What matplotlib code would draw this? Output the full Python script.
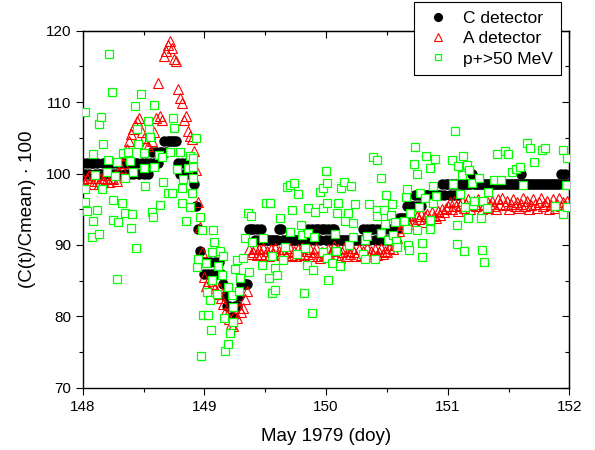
import numpy as np
import matplotlib
matplotlib.use("Agg")
import matplotlib.pyplot as plt
from matplotlib.ticker import MultipleLocator

plt.rcParams['font.family'] = ['Liberation Sans', 'DejaVu Sans']

# C and A detectors: one sample every 1/60 day, days 148-152
step = 1 / 60
sample_time = 148 + step * np.arange(240)

c_detector = [
    # 148.0 - 148.5
    101.5, 100.0, 101.5, 100.0, 101.5, 101.5, 100.0, 101.5, 100.0, 100.0,
    101.5, 100.0, 101.5, 101.5, 100.0, 101.5, 100.0, 101.5, 100.0, 101.5,
    101.5, 100.0, 101.5, 100.0, 101.5, 100.0, 101.5, 101.5, 100.0, 101.5,
    # 148.5 - 149.0
    100.0, 101.5, 100.0, 101.5, 103.0, 101.5, 103.0, 101.5, 103.0, 103.0,
    104.5, 103.0, 104.5, 104.5, 104.5, 104.5, 104.5, 101.5, 100.0, 101.5,
    100.0, 101.5, 100.0, 101.5, 100.0, 98.5, 95.4, 92.3, 89.2, 87.6,
    # 149.0 - 149.5
    86.0, 87.6, 86.0, 87.6, 86.0, 87.6, 86.0, 87.6, 86.0, 84.5,
    82.9, 81.4, 81.4, 79.9, 79.9, 81.4, 81.4, 82.9, 84.5, 84.5,
    84.5, 84.5, 92.3, 92.3, 92.3, 90.7, 92.3, 90.7, 92.3, 90.7,
    # 149.5 - 150.0
    90.7, 90.7, 90.7, 90.7, 90.7, 90.7, 90.7, 92.3, 92.3, 90.7,
    90.7, 90.7, 90.7, 90.7, 90.7, 90.7, 90.7, 90.7, 90.7, 90.7,
    90.7, 92.3, 90.7, 92.3, 90.7, 92.3, 92.3, 90.7, 92.3, 92.3,
    # 150.0 - 150.5
    90.7, 92.3, 90.7, 92.3, 92.3, 90.7, 90.7, 90.7, 90.7, 90.7,
    90.7, 90.7, 90.7, 90.7, 90.7, 90.7, 90.7, 90.7, 92.3, 90.7,
    92.3, 90.7, 92.3, 92.3, 90.7, 92.3, 90.7, 92.3, 90.7, 92.3,
    # 150.5 - 151.0
    90.7, 92.3, 90.7, 92.3, 90.7, 92.3, 93.8, 93.8, 93.8, 93.8,
    95.4, 95.4, 95.4, 95.4, 97.0, 95.4, 97.0, 95.4, 97.0, 97.0,
    97.0, 97.0, 97.0, 97.0, 97.0, 97.0, 97.0, 98.5, 97.0, 98.5,
    # 151.0 - 151.5
    98.5, 97.0, 98.5, 97.0, 98.5, 97.0, 98.5, 98.5, 98.5, 98.5,
    98.5, 98.5, 100.0, 98.5, 98.5, 98.5, 98.5, 98.5, 98.5, 98.5,
    98.5, 98.5, 98.5, 98.5, 98.5, 98.5, 98.5, 98.5, 98.5, 98.5,
    # 151.5 - 152.0
    98.5, 98.5, 98.5, 98.5, 98.5, 98.5, 100.0, 98.5, 98.5, 98.5,
    98.5, 98.5, 98.5, 98.5, 98.5, 98.5, 98.5, 98.5, 98.5, 98.5,
    98.5, 98.5, 98.5, 98.5, 98.5, 98.5, 100.0, 98.5, 100.0, 98.5,
]

a_detector = [
    # 148.0 - 148.5
    99.2, 98.6, 99.4, 99.8, 99.0, 98.6, 99.4, 99.0, 98.6, 99.4,
    99.0, 99.8, 99.2, 98.8, 99.4, 99.2, 99.8, 99.0, 100.2, 100.8,
    101.5, 102.6, 103.5, 104.6, 105.5, 106.2, 106.8, 107.4, 107.8, 105.8,
    # 148.5 - 149.0
    105.0, 104.2, 103.8, 105.5, 104.6, 105.8, 107.8, 112.6, 108.0, 107.5,
    116.5, 117.2, 118.0, 118.5, 117.6, 116.0, 115.8, 111.8, 110.6, 109.8,
    107.5, 108.0, 106.0, 105.2, 104.8, 103.2, 100.5, 96.0, 92.5, 89.0,
    # 149.0 - 149.5
    85.5, 84.2, 85.0, 83.5, 84.6, 84.0, 83.2, 84.0, 82.6, 81.8,
    80.6, 80.2, 79.6, 79.0, 78.6, 80.5, 79.8, 81.2, 80.6, 81.2,
    82.4, 83.5, 89.5, 88.8, 89.0, 89.6, 88.6, 89.4, 88.8, 89.6,
    # 149.5 - 150.0
    88.6, 89.2, 88.4, 89.4, 88.8, 89.6, 88.6, 89.2, 88.8, 89.4,
    88.4, 89.0, 89.6, 88.6, 89.2, 88.4, 89.4, 88.8, 89.6, 88.6,
    89.2, 88.8, 89.4, 88.4, 89.0, 89.6, 88.4, 88.2, 89.0, 88.6,
    # 150.0 - 150.5
    88.8, 89.4, 88.4, 89.2, 89.8, 88.6, 89.4, 88.2, 89.0, 89.6,
    88.4, 89.2, 88.8, 89.6, 89.0, 88.4, 89.4, 88.6, 89.2, 88.8,
    89.6, 88.4, 89.2, 88.8, 89.4, 88.6, 89.0, 89.6, 88.8, 89.2,
    # 150.5 - 151.0
    89.0, 89.6, 90.0, 89.4, 90.2, 91.0, 92.0, 92.4, 92.8, 93.2,
    93.5, 93.0, 94.2, 93.4, 93.0, 94.0, 93.6, 94.4, 93.2, 94.0,
    94.4, 93.8, 94.6, 94.0, 93.8, 94.8, 94.2, 95.0, 94.6, 95.2,
    # 151.0 - 151.5
    95.4, 96.0, 95.0, 96.2, 95.4, 94.8, 95.6, 96.2, 95.2, 95.8,
    96.4, 95.0, 95.6, 96.2, 95.4, 96.4, 95.8, 95.0, 95.6, 96.4,
    95.2, 95.8, 96.2, 95.4, 95.0, 96.4, 95.8, 96.6, 95.6, 96.2,
    # 151.5 - 152.0
    95.0, 95.8, 96.4, 95.4, 96.0, 95.2, 95.8, 96.6, 95.4, 96.2,
    95.0, 95.6, 96.4, 95.8, 95.2, 96.0, 96.6, 95.4, 95.8, 96.2,
    95.0, 95.6, 96.4, 95.2, 95.8, 96.6, 95.4, 96.0, 95.6, 96.2,
]

# protons > 50 MeV (time in doy, normalised rate)
proton_time = [
    148.02, 148.02, 148.02, 148.035, 148.075, 148.085, 148.085, 148.10, 148.12, 148.13,
    148.13, 148.15, 148.16, 148.17, 148.20, 148.21, 148.22, 148.24, 148.25, 148.25,
    148.265, 148.28, 148.28, 148.29, 148.32, 148.33, 148.35, 148.35, 148.37, 148.39,
    148.40, 148.405, 148.41, 148.43, 148.44, 148.45, 148.455, 148.48, 148.50, 148.505,
    148.51, 148.54, 148.545, 148.55, 148.57, 148.58, 148.59, 148.59, 148.63, 148.635,
    148.65, 148.66, 148.70, 148.72, 148.73, 148.74, 148.75, 148.775, 148.80, 148.815,
    148.815, 148.825, 148.85, 148.865, 148.88, 148.88, 148.90, 148.905, 148.905, 148.905,
    148.93, 148.94, 148.95, 148.965, 148.97, 148.98, 148.99,
    149.015, 149.02, 149.03, 149.045, 149.055, 149.065, 149.065, 149.07, 149.08, 149.10,
    149.11, 149.13, 149.145, 149.155, 149.16, 149.17, 149.19, 149.195, 149.21, 149.225,
    149.235, 149.235, 149.25, 149.27, 149.285, 149.29, 149.32, 149.335, 149.36, 149.37,
    149.38, 149.39, 149.475, 149.48, 149.51, 149.53, 149.54, 149.555, 149.555, 149.58,
    149.58, 149.60, 149.62, 149.645, 149.665, 149.68, 149.705, 149.705, 149.72, 149.74,
    149.76, 149.77, 149.79, 149.80, 149.82, 149.83, 149.845, 149.85, 149.85, 149.885,
    149.89, 149.90, 149.91, 149.95, 149.975, 149.975, 149.975,
    150.00, 150.01, 150.01, 150.01, 150.02, 150.05, 150.075, 150.08, 150.09, 150.10,
    150.12, 150.115, 150.15, 150.155, 150.18, 150.19, 150.205, 150.22, 150.22, 150.24,
    150.305, 150.32, 150.32, 150.34, 150.355, 150.385, 150.40, 150.42, 150.42, 150.42,
    150.45, 150.45, 150.475, 150.485, 150.49, 150.51, 150.535, 150.54, 150.55, 150.565,
    150.575, 150.585, 150.64, 150.66, 150.665, 150.665, 150.675, 150.68, 150.69, 150.725,
    150.73, 150.75, 150.75, 150.765, 150.77, 150.79, 150.79, 150.815, 150.82, 150.855,
    150.855, 150.855, 150.88, 150.88, 150.895, 150.905,
    151.035, 151.045, 151.06, 151.08, 151.08, 151.085, 151.10, 151.12, 151.125, 151.135,
    151.14, 151.16, 151.165, 151.175, 151.20, 151.21, 151.215, 151.26, 151.27, 151.28,
    151.29, 151.30, 151.325, 151.33, 151.38, 151.405, 151.44, 151.47, 151.495, 151.53,
    151.56, 151.595, 151.62, 151.655, 151.68, 151.71, 151.775, 151.80, 151.885, 151.95,
    151.95, 151.975, 151.98, 151.98,
]
proton_rate = [
    108.6, 97.8, 96.0, 94.8, 91.1, 102.7, 93.4, 99.8, 94.9, 106.9,
    91.5, 107.9, 97.8, 104.1, 100.2, 101.9, 116.7, 111.4, 96.3, 93.5,
    99.7, 101.6, 85.2, 93.2, 95.9, 102.9, 99.4, 94.5, 103.0, 101.7,
    92.4, 94.3, 100.2, 109.4, 89.6, 106.2, 104.1, 111.1, 102.9, 100.8,
    98.3, 107.3, 106.2, 105.1, 94.6, 93.9, 109.6, 100.9, 102.6, 95.6,
    102.3, 98.8, 97.3, 103.0, 97.3, 107.8, 106.4, 100.6, 103.0, 98.0,
    95.9, 99.2, 93.4, 100.8, 102.4, 95.3, 97.3, 99.4, 102.2, 100.9,
    105.0, 86.9, 88.0, 93.9, 74.5, 92.1, 80.2,
    87.5, 83.4, 80.2, 82.3, 78.1, 89.0, 85.1, 92.1, 90.4, 83.1,
    87.1, 89.2, 85.8, 88.5, 79.8, 75.2, 76.2, 84.1, 77.7, 83.0,
    81.3, 79.2, 86.6, 87.9, 83.6, 85.4, 88.2, 91.0, 94.5, 86.2,
    94.1, 90.4, 87.2, 91.0, 95.9, 85.4, 95.9, 88.5, 83.3, 86.8,
    83.7, 85.8, 93.8, 87.9, 89.7, 98.1, 98.4, 91.8, 94.9, 98.7,
    88.7, 97.1, 92.8, 91.4, 83.3, 89.6, 87.2, 95.2, 91.7, 80.5,
    86.5, 91.1, 94.6, 97.4, 98.0, 95.2, 89.0,
    100.3, 95.9, 98.7, 88.2, 85.1, 87.5, 91.5, 89.2, 94.5, 95.9,
    98.0, 87.1, 98.8, 93.4, 94.5, 90.0, 98.3, 93.1, 91.1, 95.7,
    88.7, 90.7, 88.0, 91.3, 95.7, 102.3, 88.1, 101.9, 94.9, 94.1,
    99.4, 91.7, 94.9, 92.9, 97.0, 90.7, 94.2, 95.7, 91.4, 93.2,
    90.6, 89.7, 93.4, 96.7, 97.8, 92.2, 90.0, 89.3, 94.5, 101.3,
    103.7, 99.9, 92.1, 95.3, 97.3, 90.3, 88.3, 96.6, 102.4, 100.8,
    93.5, 92.2, 98.3, 95.9, 102.0, 96.9,
    101.9, 98.5, 105.9, 92.8, 90.1, 101.0, 97.1, 99.8, 102.4, 89.2,
    95.3, 101.2, 93.8, 100.5, 98.7, 95.6, 96.2, 99.4, 93.8, 89.3,
    96.2, 87.6, 95.2, 97.4, 99.1, 102.7, 99.1, 103.1, 102.7, 100.2,
    100.6, 100.9, 98.4, 104.3, 103.6, 101.6, 103.3, 103.6, 95.5, 103.3,
    94.3, 98.4, 102.2, 95.3,
]

fig = plt.figure(figsize=(5.95, 4.5), dpi=100)
ax = fig.add_axes([0.139, 0.138, 0.818, 0.794])

ax.plot(sample_time, c_detector, 'o', ls='none', color='black', ms=6.5,
        label='C detector', zorder=3)
ax.plot(sample_time, a_detector, '^', ls='none', mfc='none', mec='red',
        ms=7.5, mew=0.8, label='A detector', zorder=4)
ax.plot(proton_time, proton_rate, 's', ls='none', mfc='white', mec='#00ff00',
        ms=5.8, mew=0.9, label='p+>50 MeV', zorder=5)

ax.set_xlim(148, 152)
ax.set_ylim(70, 120)
ax.xaxis.set_major_locator(MultipleLocator(1))
ax.xaxis.set_minor_locator(MultipleLocator(0.5))
ax.yaxis.set_major_locator(MultipleLocator(10))
ax.yaxis.set_minor_locator(MultipleLocator(5))
ax.tick_params(which='both', direction='out', width=0.8, labelsize=11,
               top=False, right=False)
ax.tick_params(which='major', length=5)
ax.tick_params(which='minor', length=3)
for sp in ax.spines.values():
    sp.set_linewidth(1.0)

# mirrored ticks pointing inwards on top and right
top = ax.secondary_xaxis('top')
top.xaxis.set_major_locator(MultipleLocator(1))
top.xaxis.set_minor_locator(MultipleLocator(0.5))
top.tick_params(which='both', direction='in', width=0.8, labeltop=False)
top.tick_params(which='major', length=5)
top.tick_params(which='minor', length=3)
right = ax.secondary_yaxis('right')
right.yaxis.set_major_locator(MultipleLocator(10))
right.yaxis.set_minor_locator(MultipleLocator(5))
right.tick_params(which='both', direction='in', width=0.8, labelright=False)
right.tick_params(which='major', length=5)
right.tick_params(which='minor', length=3)

ax.set_xlabel('May 1979 (doy)', fontsize=13.5, labelpad=10)
ax.set_ylabel('(C(t)/Cmean) \u00b7 100', fontsize=13.5, labelpad=7)

handles, labels = ax.get_legend_handles_labels()
leg = fig.legend(handles, labels, loc='upper left',
                 bbox_to_anchor=(414 / 595, 1 - 2 / 450),
                 bbox_transform=fig.transFigure, fontsize=12.5,
                 frameon=True, fancybox=False, edgecolor='black',
                 framealpha=1, borderaxespad=0, borderpad=0.5,
                 labelspacing=0.3, handlelength=1.75, handletextpad=0.55,
                 markerscale=0.85)
leg.get_frame().set_linewidth(0.8)
leg.set_zorder(10)

fig.savefig('out.png', dpi=100)
